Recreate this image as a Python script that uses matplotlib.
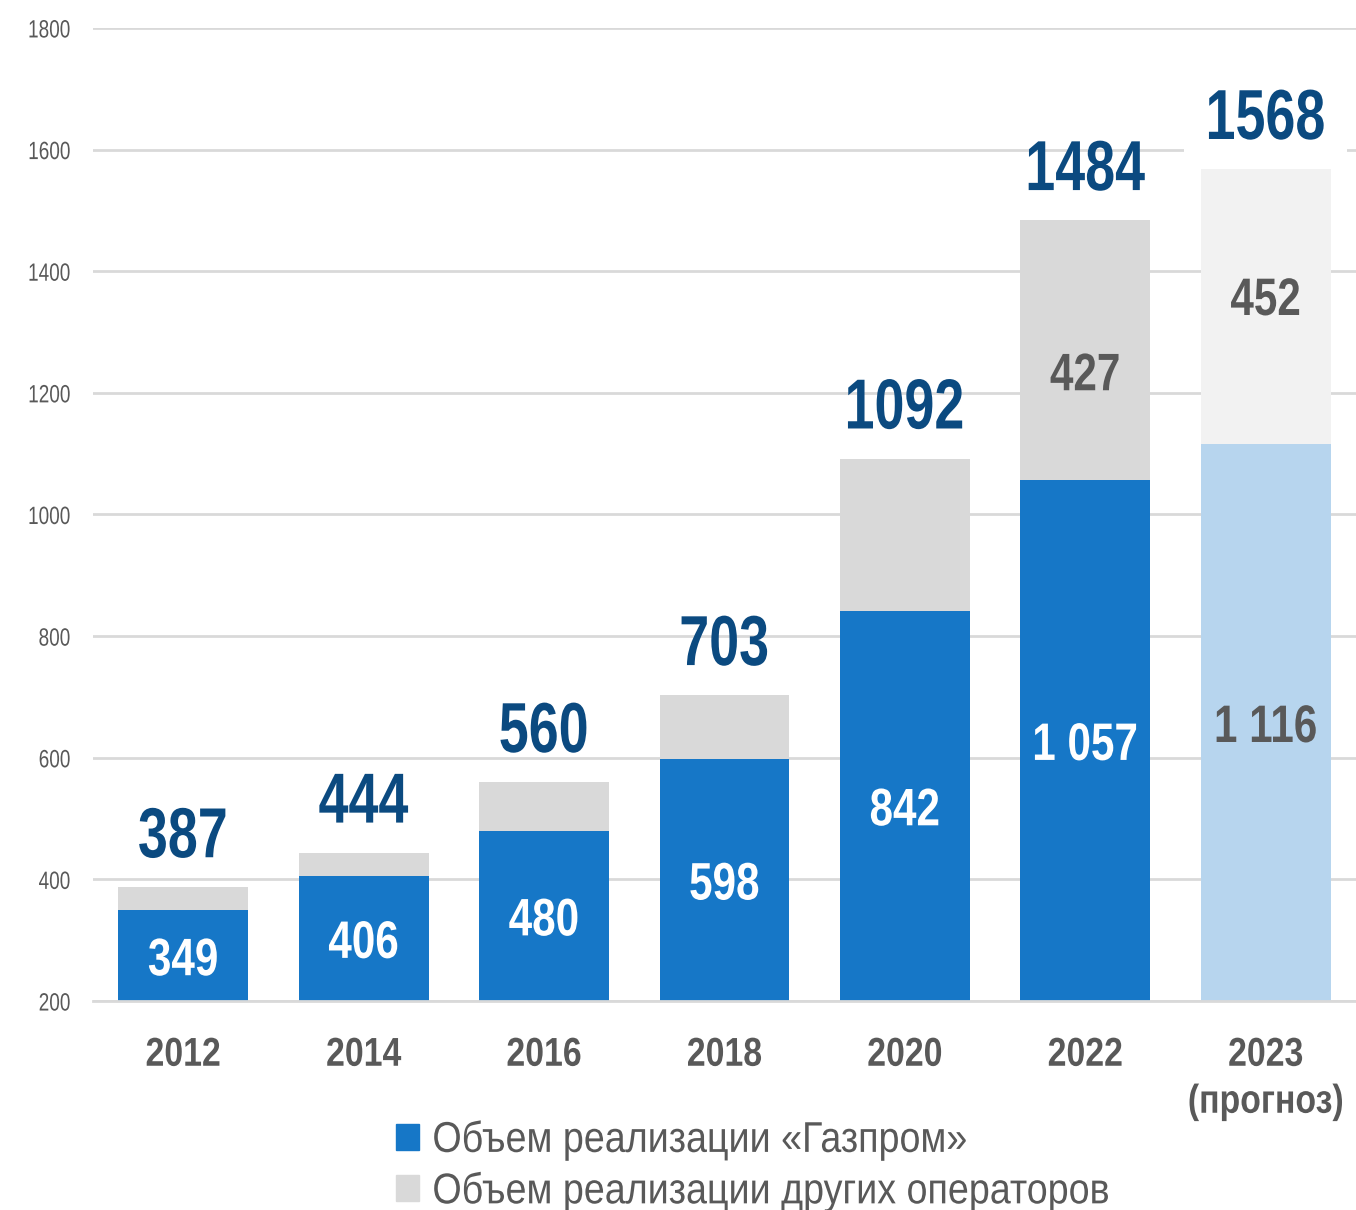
import matplotlib
matplotlib.use('Agg')
import matplotlib.pyplot as plt
from matplotlib.patches import Patch
from matplotlib.patheffects import AbstractPathEffect
from matplotlib.transforms import Affine2D

years = ['2012', '2014', '2016', '2018', '2020', '2022', '2023\n(прогноз)']
gazprom = [349, 406, 480, 598, 842, 1057, 1116]
others = [38, 38, 80, 105, 250, 427, 452]
totals = [387, 444, 560, 703, 1092, 1484, 1568]
gazprom_labels = ['349', '406', '480', '598', '842', '1 057', '1 116']
other_labels = ['', '', '', '', '', '427', '452']
legend_labels = ['Объем реализации «Газпром»', 'Объем реализации других операторов']

plt.rcParams['font.family'] = ['Liberation Sans', 'DejaVu Sans']

BLUE = '#1677c7'
GRAY = '#d9d9d9'
LIGHT_BLUE = '#b7d5ee'
LIGHT_GRAY = '#f2f2f2'
DARK_BLUE = '#0b4a80'
TEXT_GRAY = '#595959'


class Squeeze(AbstractPathEffect):
    """squash glyphs horizontally to fake a narrow font"""

    def __init__(self, sx=0.78, align='center'):
        super().__init__()
        self.sx = sx
        self.align = align

    def draw_path(self, renderer, gc, tpath, affine, rgbFace=None):
        w = tpath.get_extents().x1
        shift = {'left': 0, 'center': (1 - self.sx) * w / 2, 'right': (1 - self.sx) * w}[self.align]
        t = Affine2D().scale(self.sx, 1).translate(shift, 0) + affine
        renderer.draw_path(gc, tpath, t, rgbFace)


base = 200
fig = plt.figure(figsize=(13.56, 12.1), dpi=100)
ax = fig.add_axes([0.0686, 0.1727, 0.9314, 0.8042])

x = list(range(len(years)))
g_colors = [BLUE] * 6 + [LIGHT_BLUE]
o_colors = [GRAY] * 6 + [LIGHT_GRAY]
g_heights = [v - base for v in gazprom]
ax.bar(x, g_heights, bottom=base, width=0.72, color=g_colors, zorder=2)
ax.bar(x, others, bottom=gazprom, width=0.72, color=o_colors, zorder=2)

other_pos = [0.5, 0.5, 0.5, 0.5, 0.5, 0.42, 0.54]
for i in x:
    col = 'white' if i < 6 else TEXT_GRAY
    ax.text(i, (base + gazprom[i]) / 2, gazprom_labels[i], ha='center', va='center_baseline',
            fontsize=38, fontweight='bold', color=col, zorder=3,
            path_effects=[Squeeze(0.8)])
    if other_labels[i]:
        ax.text(i, gazprom[i] + others[i] * other_pos[i], other_labels[i], ha='center',
                va='center_baseline', fontsize=38, fontweight='bold', color=TEXT_GRAY, zorder=3,
                path_effects=[Squeeze(0.8)])
    # the forecast label hides the gridline behind it, the others don't
    box = dict(facecolor='white', edgecolor='none', pad=2) if i == 6 else None
    ax.annotate(str(totals[i]), (i, totals[i]), xytext=(0, 40), textcoords='offset points',
                ha='center', va='center_baseline', fontsize=51, fontweight='bold', color=DARK_BLUE,
                zorder=4, bbox=box, path_effects=[Squeeze(0.76)])

ax.set_xlim(-0.5, 6.5)
ax.set_ylim(200, 1800)
ax.set_yticks(range(200, 1801, 200))
ax.yaxis.grid(True, color=GRAY, linewidth=2)
ax.set_axisbelow(True)
for s in ax.spines.values():
    s.set_visible(False)
ax.spines['bottom'].set_visible(True)
ax.spines['bottom'].set_color(GRAY)
ax.spines['bottom'].set_linewidth(2)
ax.tick_params(axis='both', length=0)
ax.tick_params(axis='y', labelsize=18, labelcolor=TEXT_GRAY, pad=16)
ax.set_xticks(x)
ax.set_xticklabels(years, fontsize=29, fontweight='bold', color=TEXT_GRAY, linespacing=1.3)
ax.tick_params(axis='x', pad=25)
for lab in ax.get_yticklabels():
    lab.set_path_effects([Squeeze(0.76, 'right')])
for lab in ax.get_xticklabels():
    lab.set_path_effects([Squeeze(0.84)])

handles = [Patch(color=BLUE), Patch(color=GRAY)]
leg = fig.legend(handles, legend_labels,
                 loc='upper left', bbox_to_anchor=(0.276, 0.092),
                 frameon=False, fontsize=31, labelcolor=TEXT_GRAY,
                 handlelength=0.55, handleheight=0.55, handletextpad=0.3, labelspacing=0.25,
                 borderpad=0)
for t in leg.get_texts():
    t.set_path_effects([Squeeze(0.875, 'left')])

fig.savefig('out.png', dpi=100)
